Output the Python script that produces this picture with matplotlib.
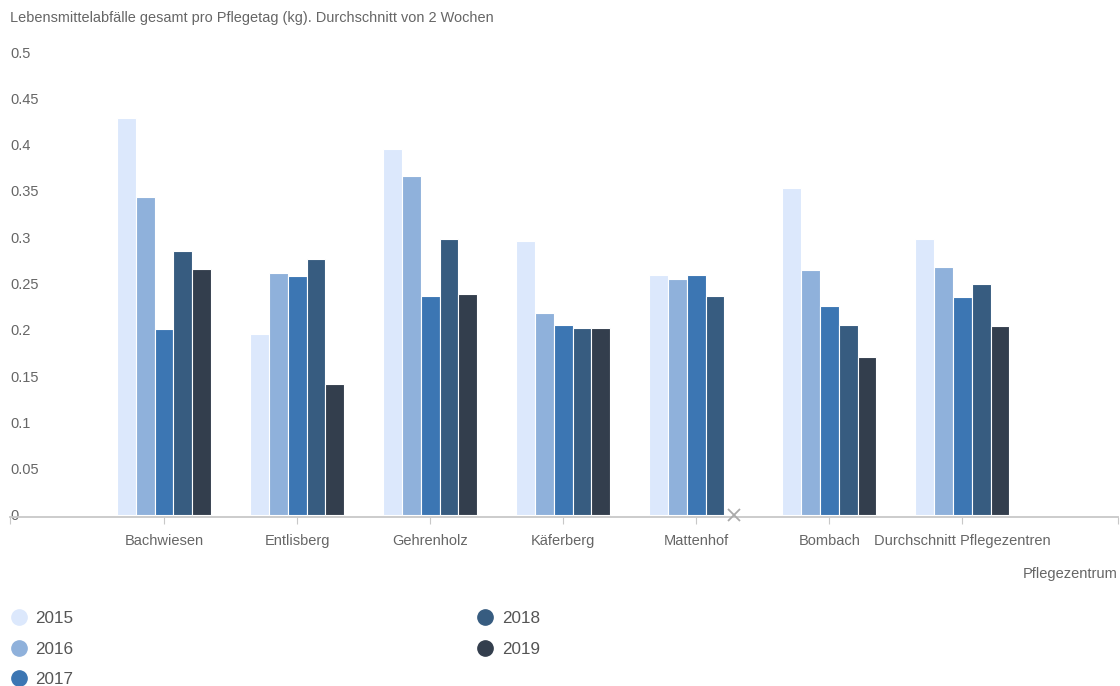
#! /usr/bin/env python

import numpy as np
import matplotlib
matplotlib.use('Agg')
import matplotlib.pyplot as plt
from matplotlib.lines import Line2D

plt.rcParams['font.family'] = ['Liberation Sans', 'DejaVu Sans']

# data
zentren = ['Bachwiesen', 'Entlisberg', 'Gehrenholz', 'Käferberg',
           'Mattenhof', 'Bombach', 'Durchschnitt Pflegezentren']
jahre = ['2015', '2016', '2017', '2018', '2019']
w2015 = [0.429, 0.195, 0.395, 0.296, 0.259, 0.353, 0.298]
w2016 = [0.343, 0.261, 0.366, 0.218, 0.255, 0.265, 0.268]
w2017 = [0.201, 0.258, 0.237, 0.205, 0.259, 0.226, 0.235]
w2018 = [0.285, 0.276, 0.298, 0.202, 0.236, 0.205, 0.249]
w2019 = [0.266, 0.141, 0.239, 0.202, None, 0.171, 0.204]
yticks = [0, 0.05, 0.1, 0.15, 0.2, 0.25, 0.3, 0.35, 0.4, 0.45, 0.5]

farben = ['#dce8fc', '#8fb1db', '#3c76b3', '#375c80', '#333e4d']
reihen = [w2015, w2016, w2017, w2018, w2019]

W, H = 1120, 686
fig = plt.figure(figsize=(W / 100, H / 100), dpi=100)
ax = fig.add_axes([10 / W, (H - 517) / H, (1118 - 10) / W, (517 - 52) / H])

x = np.arange(len(zentren))
bw = 0.1414
for j, (werte, farbe) in enumerate(zip(reihen, farben)):
    vals = np.array([np.nan if v is None else v for v in werte], dtype=float)
    pos = x + (j - 2) * bw
    ok = ~np.isnan(vals)
    ax.bar(pos[ok], vals[ok], width=bw, color=farbe, edgecolor='white',
           linewidth=0.8, zorder=2)
    # missing values are marked with a small cross on the axis
    if (~ok).any():
        ax.plot(pos[~ok], np.zeros((~ok).sum()), marker='x', ls='none',
                color='#aaaaaa', ms=9, mew=1.3, zorder=3, clip_on=False)

ax.set_xlim(-1.158, 7.17)
ax.set_ylim(-0.0022, 0.5)

for s in ['top', 'right', 'left']:
    ax.spines[s].set_visible(False)
ax.spines['bottom'].set_color('#c8c8c8')
ax.spines['bottom'].set_linewidth(1.3)

ax.set_xticks(x)
ax.set_xticklabels(zentren, fontsize=10.5, color='#666666')
ax.set_xticks([-1.158, 7.17], minor=True)
ax.tick_params(axis='x', which='both', length=5, width=0.8, color='#c8c8c8', pad=7)

ax.set_yticks(yticks)
ax.set_yticklabels([f'{v:g}' for v in yticks], fontsize=10.5, color='#666666')
ax.tick_params(axis='y', length=0, pad=0)
for lbl in ax.get_yticklabels():
    lbl.set_horizontalalignment('left')

fig.text(10 / W, 1 - 18 / H, 'Lebensmittelabfälle gesamt pro Pflegetag (kg). Durchschnitt von 2 Wochen',
         fontsize=10.45, color='#666666', va='center', ha='left')
fig.text(1118 / W, 1 - 574 / H, 'Pflegezentrum', fontsize=10.5, color='#666666',
         va='center', ha='right')

handles = [Line2D([], [], marker='o', ls='none', color=f, ms=11) for f in farben]
leg = fig.legend(handles, jahre, loc='upper left', bbox_to_anchor=(10 / W, 1 - 611 / H),
                 ncol=2, frameon=False, fontsize=12.3, borderpad=0, borderaxespad=0,
                 handlelength=1.0, handletextpad=0.5, labelspacing=0.92,
                 columnspacing=23.55, labelcolor='#555555')

fig.savefig('out.png', dpi=100)
